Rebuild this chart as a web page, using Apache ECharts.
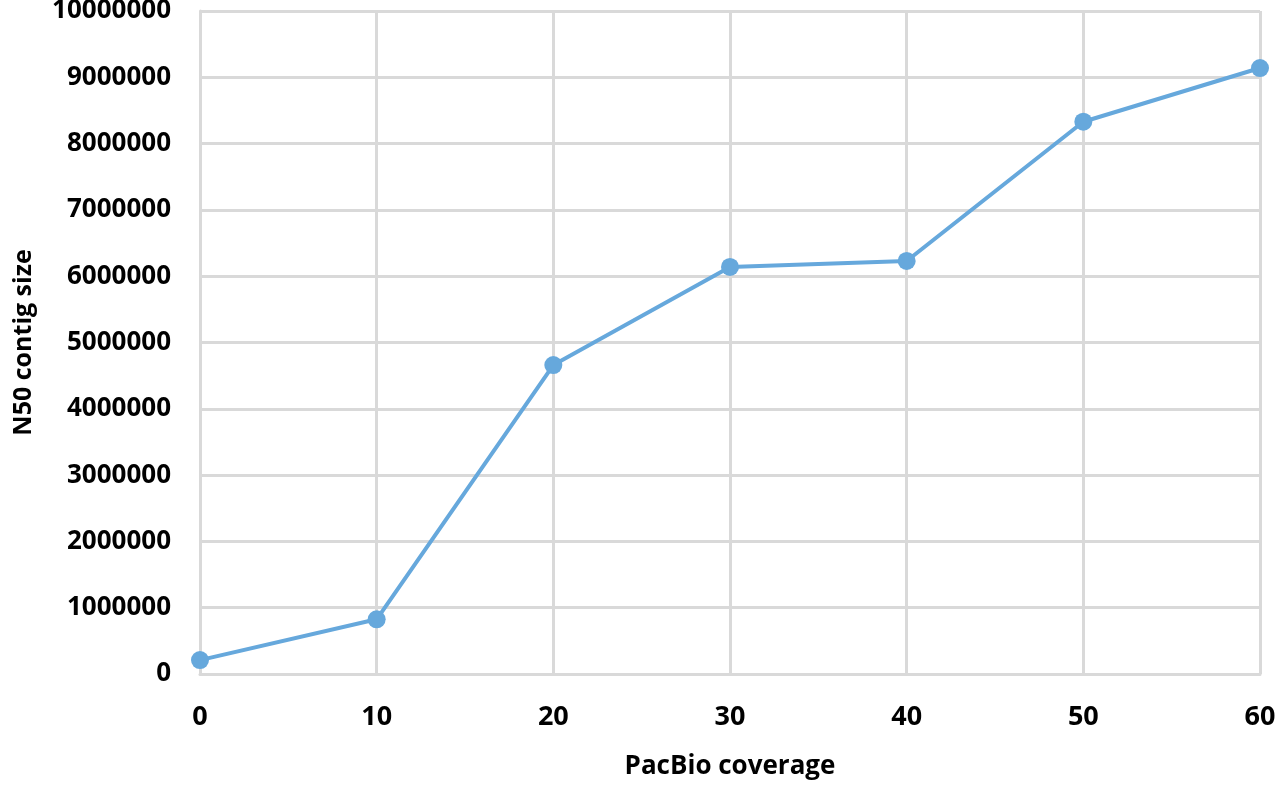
<!DOCTYPE html>
<html>
<head>
<meta charset="utf-8">
<script src="https://cdn.jsdelivr.net/npm/echarts@6/dist/echarts.min.js"></script>
<style>
  html, body { margin: 0; padding: 0; background: #fff; }
  #main { width: 1280px; height: 787px; }
</style>
</head>
<body>
<div id="main"></div>
<script>
// PacBio coverage vs N50 contig size
const coverage = [0, 10, 20, 30, 40, 50, 60];
const n50 = [210000, 825000, 4660000, 6140000, 6230000, 8330000, 9140000];
const xTicks = [0, 10, 20, 30, 40, 50, 60];
const yTicks = [0, 1000000, 2000000, 3000000, 4000000, 5000000, 6000000, 7000000, 8000000, 9000000, 10000000];

const chart = echarts.init(document.getElementById("main"));

const font = "'Open Sans', Lato, sans-serif";
const gridColor = "#d9d9d9";

const option = {
  animation: false,
  grid: { left: 200, right: 20, top: 11, bottom: 113, containLabel: false, outerBoundsMode: "none" },
  xAxis: {
    type: "value",
    min: xTicks[0],
    max: xTicks[xTicks.length - 1],
    interval: 10,
    name: "PacBio coverage",
    nameLocation: "middle",
    nameGap: 80,
    nameTextStyle: { fontFamily: font, fontWeight: "bold", fontSize: 26, color: "#000" },
    axisLine: { show: true, lineStyle: { color: gridColor, width: 3 } },
    axisTick: { show: false },
    axisLabel: { fontFamily: font, fontWeight: "bold", fontSize: 27, color: "#000", margin: 30,
      formatter: (v) => String(v) },
    splitLine: { show: true, lineStyle: { color: gridColor, width: 3 } }
  },
  yAxis: {
    type: "value",
    min: yTicks[0],
    max: yTicks[yTicks.length - 1],
    interval: 1000000,
    name: "N50 contig size",
    nameLocation: "middle",
    nameGap: 164,
    nameRotate: 90,
    nameTextStyle: { fontFamily: font, fontWeight: "bold", fontSize: 25, color: "#000" },
    axisLine: { show: true, lineStyle: { color: gridColor, width: 3 } },
    axisTick: { show: false },
    axisLabel: { fontFamily: font, fontWeight: "bold", fontSize: 26, color: "#000", margin: 29,
      formatter: (v) => String(v) },
    splitLine: { show: true, lineStyle: { color: gridColor, width: 3 } }
  },
  series: [
    {
      type: "line",
      data: coverage.map((c, i) => [c, n50[i]]),
      symbol: "circle",
      symbolSize: 18,
      lineStyle: { color: "#66a8dc", width: 4 },
      itemStyle: { color: "#66a8dc" },
      clip: false
    }
  ]
};

chart.setOption(option);
</script>
</body>
</html>
